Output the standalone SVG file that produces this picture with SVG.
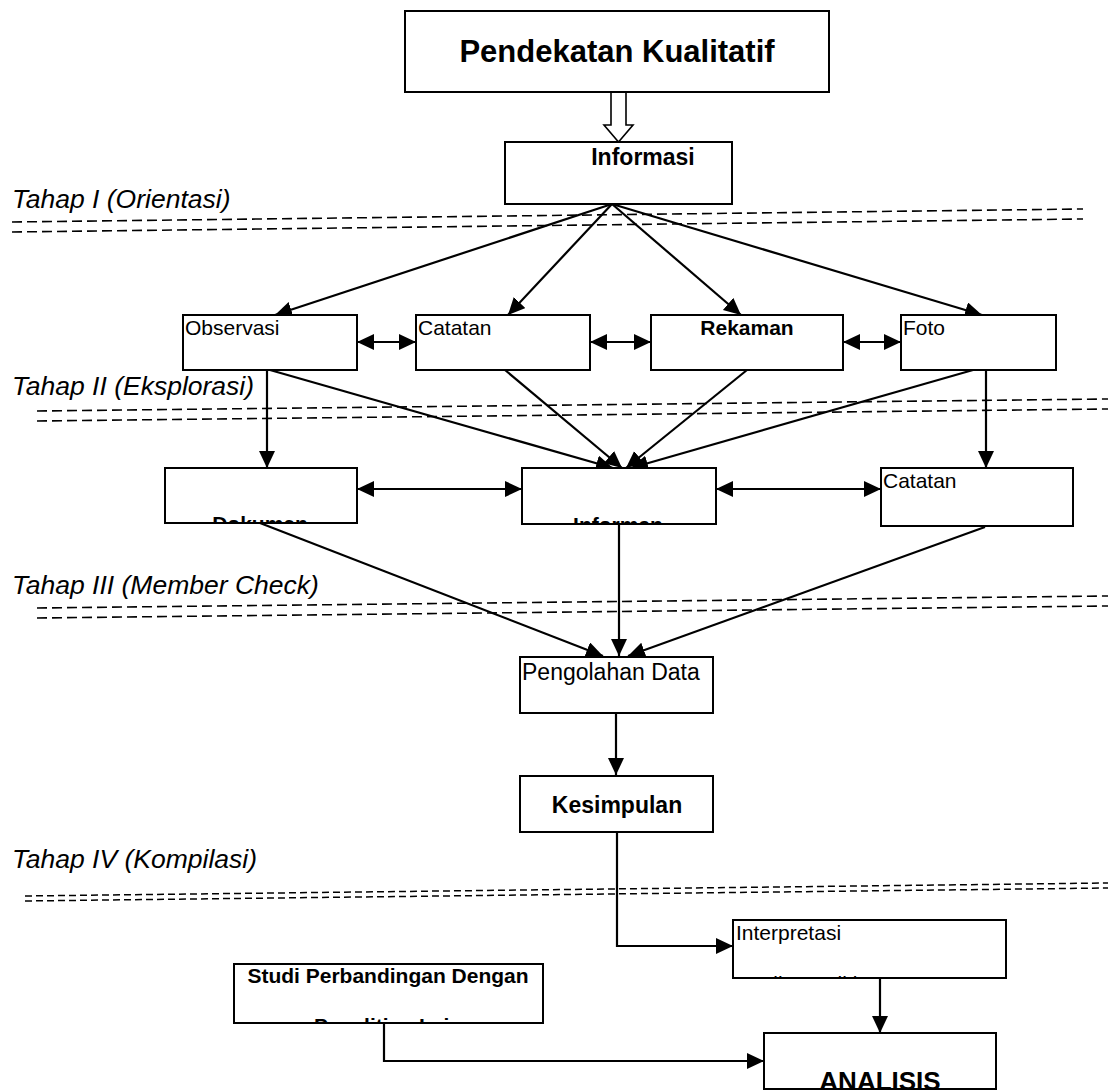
<svg xmlns="http://www.w3.org/2000/svg" width="1108" height="1091" viewBox="0 0 1108 1091">
<style>
text{font-family:"Liberation Sans",Arial,sans-serif;fill:#000}
.box{fill:#fff;stroke:#000;stroke-width:2}
.b{font-weight:bold}
.stage{font-style:italic;font-size:26.5px}
.dash{stroke:#000;stroke-width:1.6;stroke-dasharray:10 5;fill:none}
.dash4{stroke:#000;stroke-width:1.5;stroke-dasharray:7 4;fill:none}
.c{stroke:#000;stroke-width:2.2;fill:none}
</style>
<defs>
<marker id="ah" markerUnits="userSpaceOnUse" markerWidth="18" markerHeight="18" refX="17" refY="8" orient="auto-start-reverse">
<path d="M0,0 L17,8 L0,16 z" fill="#000"/>
</marker>
<clipPath id="clipDok"><rect x="165" y="468" width="192" height="56"/></clipPath>
<clipPath id="clipInf"><rect x="522" y="468" width="194" height="57"/></clipPath>
<clipPath id="clipInt"><rect x="733" y="920" width="273" height="59"/></clipPath>
<clipPath id="clipStu"><rect x="234" y="964" width="309" height="60"/></clipPath>
<clipPath id="clipAna"><rect x="764" y="1033" width="232" height="57"/></clipPath>
</defs>

<g id="stages">
<text class="stage" x="12" y="208">Tahap I (Orientasi)</text>
<line class="dash" x1="12" y1="222" x2="1083" y2="209"/>
<line class="dash" x1="12" y1="232" x2="1083" y2="219"/>
<text class="stage" x="12" y="395">Tahap II (Eksplorasi)</text>
<line class="dash" x1="37" y1="411" x2="1108" y2="399"/>
<line class="dash" x1="37" y1="421" x2="1108" y2="409"/>
<text class="stage" x="12" y="594">Tahap III (Member Check)</text>
<line class="dash" x1="37" y1="608" x2="1108" y2="596"/>
<line class="dash" x1="37" y1="618" x2="1108" y2="606"/>
<text class="stage" x="12" y="868">Tahap IV (Kompilasi)</text>
<line class="dash4" x1="25" y1="896" x2="1108" y2="883"/>
<line class="dash4" x1="25" y1="901" x2="1108" y2="888"/>
</g>

<g id="connectors">
<polygon points="611,92 611,125 604,125 618.5,142 633,125 626,125 626,92" fill="#fff" stroke="#000" stroke-width="1.6"/>
<line class="c" x1="612" y1="204" x2="275" y2="315" marker-end="url(#ah)"/>
<line class="c" x1="612" y1="204" x2="508" y2="315" marker-end="url(#ah)"/>
<line class="c" x1="612" y1="204" x2="741" y2="315" marker-end="url(#ah)"/>
<line class="c" x1="612" y1="204" x2="982" y2="315" marker-end="url(#ah)"/>
<line class="c" x1="357" y1="342" x2="416" y2="342" marker-start="url(#ah)" marker-end="url(#ah)"/>
<line class="c" x1="590" y1="342" x2="651" y2="342" marker-start="url(#ah)" marker-end="url(#ah)"/>
<line class="c" x1="843" y1="342" x2="901" y2="342" marker-start="url(#ah)" marker-end="url(#ah)"/>
<line class="c" x1="267" y1="370" x2="267" y2="468" marker-end="url(#ah)"/>
<line class="c" x1="986" y1="370" x2="986" y2="468" marker-end="url(#ah)"/>
<line class="c" x1="270" y1="370" x2="613" y2="468" marker-end="url(#ah)"/>
<line class="c" x1="505" y1="370" x2="622" y2="468" marker-end="url(#ah)"/>
<line class="c" x1="747" y1="370" x2="626" y2="468" marker-end="url(#ah)"/>
<line class="c" x1="973" y1="370" x2="631" y2="468" marker-end="url(#ah)"/>
<line class="c" x1="357" y1="489" x2="522" y2="489" marker-start="url(#ah)" marker-end="url(#ah)"/>
<line class="c" x1="716" y1="489" x2="881" y2="489" marker-start="url(#ah)" marker-end="url(#ah)"/>
<line class="c" x1="260" y1="523" x2="603" y2="656" marker-end="url(#ah)"/>
<line class="c" x1="619" y1="525" x2="619" y2="656" marker-end="url(#ah)"/>
<line class="c" x1="985" y1="527" x2="628" y2="656" marker-end="url(#ah)"/>
<line class="c" x1="616" y1="713" x2="616" y2="775" marker-end="url(#ah)"/>
<polyline class="c" points="617,832 617,946 733,946" marker-end="url(#ah)" stroke-width="1.6"/>
<line class="c" x1="880" y1="978" x2="880" y2="1033" marker-end="url(#ah)"/>
<polyline class="c" points="384,1023 384,1061 764,1061" marker-end="url(#ah)"/>
</g>

<g id="pendekatan">
<rect class="box" x="405" y="11" width="424" height="81"/>
<text class="b" x="617" y="62" font-size="31" text-anchor="middle">Pendekatan Kualitatif</text>
</g>
<g id="informasi">
<rect class="box" x="505" y="142" width="227" height="62"/>
<text class="b" x="643" y="165" font-size="23" text-anchor="middle">Informasi</text>
</g>
<g id="observasi">
<rect class="box" x="183" y="315" width="174" height="55"/>
<text x="185" y="335" font-size="21">Observasi</text>
</g>
<g id="catatan1">
<rect class="box" x="416" y="315" width="174" height="55"/>
<text x="418" y="335" font-size="21">Catatan</text>
</g>
<g id="rekaman">
<rect class="box" x="651" y="315" width="192" height="55"/>
<text class="b" x="747" y="335" font-size="21" text-anchor="middle">Rekaman</text>
</g>
<g id="foto">
<rect class="box" x="901" y="315" width="155" height="55"/>
<text x="903" y="335" font-size="21">Foto</text>
</g>
<g id="dokumen">
<rect class="box" x="165" y="468" width="192" height="55"/>
<text class="b" x="260" y="531" font-size="21" text-anchor="middle" clip-path="url(#clipDok)">Dokumen</text>
<rect x="165" y="468" width="192" height="55" fill="none" stroke="#000" stroke-width="2"/>
</g>
<g id="informan">
<rect class="box" x="522" y="468" width="194" height="56"/>
<text class="b" x="618" y="532" font-size="21" text-anchor="middle" clip-path="url(#clipInf)">Informan</text>
<rect x="522" y="468" width="194" height="56" fill="none" stroke="#000" stroke-width="2"/>
</g>
<g id="catatan2">
<rect class="box" x="881" y="468" width="192" height="58"/>
<text x="883" y="488" font-size="21">Catatan</text>
</g>
<g id="pengolahan">
<rect class="box" x="520" y="657" width="193" height="56"/>
<text x="522" y="680" font-size="23">Pengolahan Data</text>
</g>
<g id="kesimpulan">
<rect class="box" x="520" y="776" width="193" height="56"/>
<text class="b" x="617" y="813" font-size="23" text-anchor="middle">Kesimpulan</text>
</g>
<g id="interpretasi">
<rect class="box" x="733" y="920" width="273" height="58"/>
<text x="736" y="940" font-size="21">Interpretasi</text>
<text x="736" y="991" font-size="21" clip-path="url(#clipInt)">Hasil Penelitian</text>
<rect x="733" y="920" width="273" height="58" fill="none" stroke="#000" stroke-width="2"/>
</g>
<g id="studi">
<rect class="box" x="234" y="964" width="309" height="59"/>
<text class="b" x="388" y="983" font-size="21" text-anchor="middle">Studi Perbandingan Dengan</text>
<text class="b" x="388" y="1033" font-size="21" text-anchor="middle" clip-path="url(#clipStu)">Penelitian Lain</text>
<rect x="234" y="964" width="309" height="59" fill="none" stroke="#000" stroke-width="2"/>
</g>
<g id="analisis">
<rect class="box" x="764" y="1033" width="232" height="56"/>
<text class="b" x="880" y="1090" font-size="26" text-anchor="middle" clip-path="url(#clipAna)">ANALISIS</text>
<rect x="764" y="1033" width="232" height="56" fill="none" stroke="#000" stroke-width="2"/>
</g>
</svg>
